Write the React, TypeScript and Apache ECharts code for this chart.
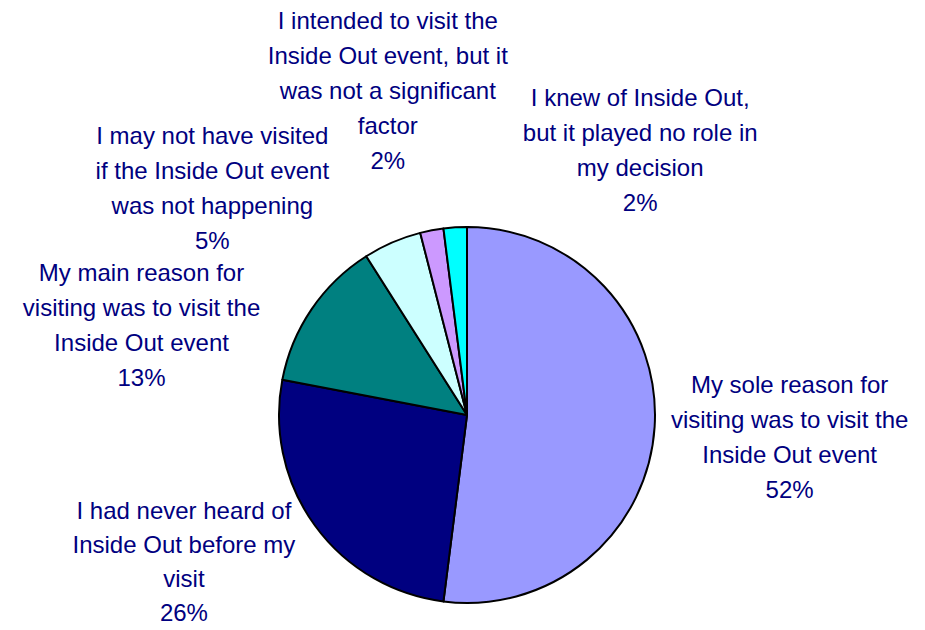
import React, { useEffect, useRef } from "react";
import * as echarts from "echarts";

const categories = [
  "My sole reason for\nvisiting was to visit the\nInside Out event",
  "I had never heard of\nInside Out before my\nvisit",
  "My main reason for\nvisiting was to visit the\nInside Out event",
  "I may not have visited\nif the Inside Out event\nwas not happening",
  "I intended to visit the\nInside Out event, but it\nwas not a significant\nfactor",
  "I knew of Inside Out,\nbut it played no role in\nmy decision",
];
const values = [52, 26, 13, 5, 2, 2];
const sliceColors = ["#9999FF", "#000080", "#008080", "#CCFFFF", "#CC99FF", "#00FFFF"];

// label offsets (px) from the slice's outer edge at its mid angle
const labelNudge = [
  [135, 10],
  [-131, 36],
  [-170, 16],
  [-180, -54],
  [-44, -140],
  [185, -77],
];
const labelLineHeights = [35, 34, 35, 35, 35, 35];

const CX = 467;
const CY = 415;
const R = 188;

export default function App() {
  const ref = useRef<HTMLDivElement>(null);
  useEffect(() => {
    document.body.style.margin = "0";
    if (!ref.current) return;
    const chart = echarts.init(ref.current, null, { renderer: "svg" });
    const total = values.reduce((a, b) => a + b, 0);
    const mids: number[] = [];
    let cum = 0;
    values.forEach((v) => {
      mids.push(((cum + v / 2) / total) * Math.PI * 2);
      cum += v;
    });
    chart.setOption({
      animation: false,
      backgroundColor: "#ffffff",
      series: [
        {
          type: "pie",
          center: [CX, CY],
          radius: R,
          startAngle: 90,
          clockwise: true,
          avoidLabelOverlap: false,
          data: categories.map((name, i) => ({
            name,
            value: values[i],
            itemStyle: { color: sliceColors[i] },
            label: { lineHeight: labelLineHeights[i] },
          })),
          itemStyle: { borderColor: "#000000", borderWidth: 2 },
          label: {
            show: true,
            position: "outside",
            color: "#000080",
            fontFamily: "Liberation Sans, Arial, sans-serif",
            fontSize: 24,
            lineHeight: 35,
            align: "center",
            formatter: (p: any) => `${p.name}\n${p.value}%`,
          },
          labelLine: { show: false },
          labelLayout: (params: any) => {
            const i = params.dataIndex;
            const a = mids[i];
            const ex = CX + R * Math.sin(a);
            const ey = CY - R * Math.cos(a);
            return {
              x: ex + labelNudge[i][0],
              y: ey + labelNudge[i][1],
              align: "center",
              verticalAlign: "middle",
            };
          },
          emphasis: { disabled: true },
        },
      ],
    });
    return () => chart.dispose();
  }, []);
  return <div ref={ref} style={{ width: 925, height: 630 }} />;
}
